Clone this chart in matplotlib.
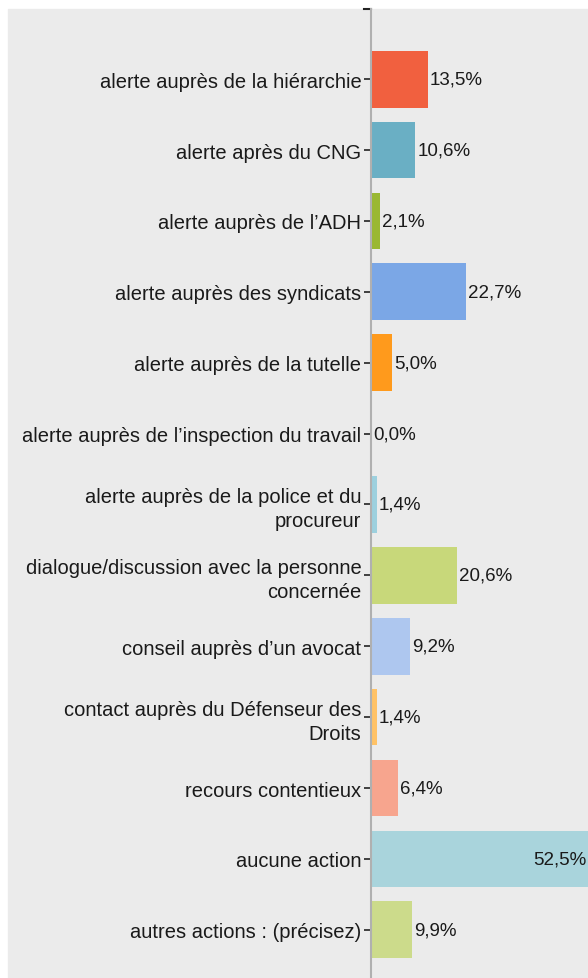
import matplotlib.pyplot as plt
from matplotlib.patches import Rectangle

plt.rcParams['font.family'] = ['Liberation Sans', 'DejaVu Sans']

categories = [
    "alerte auprès de la hiérarchie",
    "alerte après du CNG",
    "alerte auprès de l’ADH",
    "alerte auprès des syndicats",
    "alerte auprès de la tutelle",
    "alerte auprès de l’inspection du travail",
    "alerte auprès de la police et du\nprocureur",
    "dialogue/discussion avec la personne\nconcernée",
    "conseil auprès d’un avocat",
    "contact auprès du Défenseur des\nDroits",
    "recours contentieux",
    "aucune action",
    "autres actions : (précisez)",
]
values = [13.5, 10.6, 2.1, 22.7, 5.0, 0.0, 1.4, 20.6, 9.2, 1.4, 6.4, 52.5, 9.9]
colors = ["#f1603f", "#6aafc4", "#9ab832", "#7ba7e6", "#ff9a1c", "#cccccc",
          "#9dd0de", "#c8d87a", "#aec7ef", "#ffc266", "#f7a58e", "#a9d4dc", "#ccdb8b"]

W, H = 588, 979
fig = plt.figure(figsize=(W / 100, H / 100), dpi=100)
fig.patches.append(Rectangle((8 / W, 0), 1 - 8 / W, (H - 10) / H,
                             transform=fig.transFigure, color="#ebebeb", zorder=-10))

ax = fig.add_axes([371 / W, 0, (W - 371) / W, (H - 10) / H])
ax.set_facecolor("none")
y = list(range(len(categories)))
ax.barh(y, values, height=0.8, color=colors)
xmax = 51.8
ax.set_xlim(0, xmax)
ax.set_ylim(12.68, -0.99)

for i, v in enumerate(values):
    lab = f"{v:.1f}%".replace(".", ",")
    if v > xmax:
        ax.text(xmax - 0.4, i, lab, va="center", ha="right", fontsize=13.5, color="#1a1a1a")
    else:
        ax.text(v + 0.5, i, lab, va="center", ha="left", fontsize=13.5, color="#1a1a1a")

ax.set_yticks(y)
ax.set_yticklabels(categories, fontsize=14.5, color="#1a1a1a", linespacing=1.3,
                   multialignment="right")
ax.tick_params(axis="y", length=5, width=1.2, color="#222222", pad=2)
ax.set_xticks([])
for s in ["top", "right", "bottom"]:
    ax.spines[s].set_visible(False)
ax.spines["left"].set_color("#b0b0b0")
ax.spines["left"].set_linewidth(1.5)

# stray tick at top of axis
ax.plot([-1.7, 0], [-0.99, -0.99], color="#222222", lw=1.5, clip_on=False)

fig.savefig("out.png", dpi=100)
